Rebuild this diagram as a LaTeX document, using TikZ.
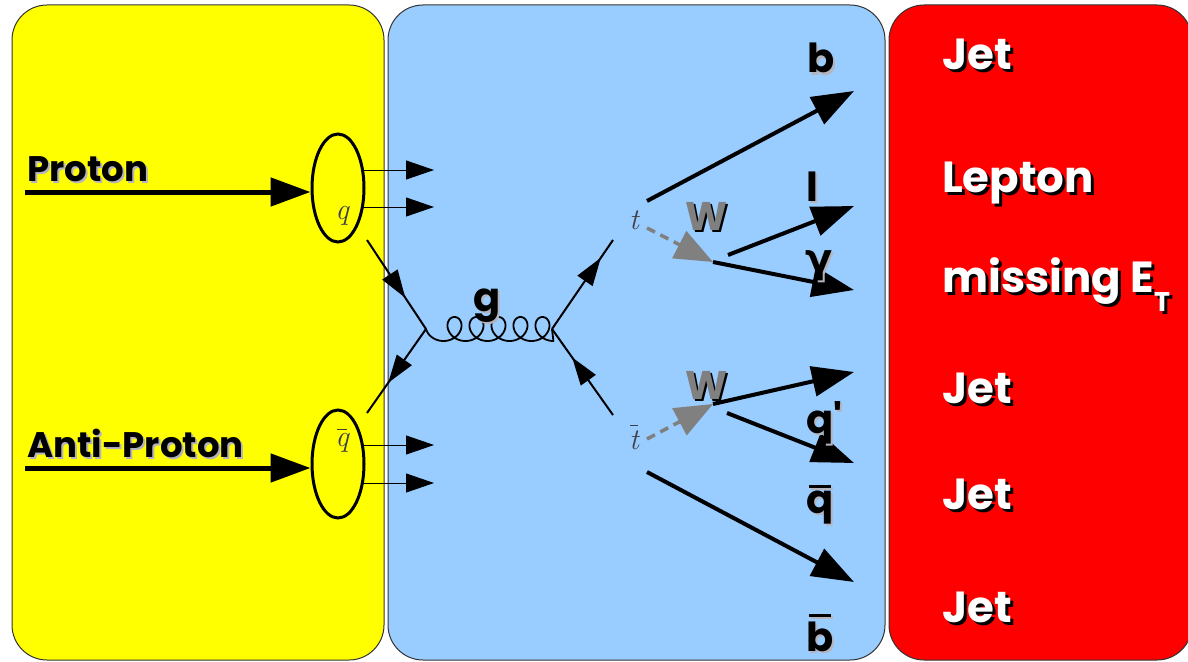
\documentclass[tikz,border=0pt]{standalone}
\usepackage{fontspec}
\setmainfont{Poppins}
\newfontfamily\lmr{Latin Modern Roman}
\newfontfamily\dvs{DejaVu Sans}
\usetikzlibrary{arrows.meta,decorations.markings,shapes.geometric}
\definecolor{panelY}{HTML}{FFFF00}
\definecolor{panelB}{HTML}{99CCFF}
\definecolor{panelR}{HTML}{FF0000}
\definecolor{panelline}{HTML}{333333}
\definecolor{wgray}{HTML}{808080}
\definecolor{shgray}{HTML}{B4B4BE}
\definecolor{mathgray}{HTML}{404048}
\newsavebox\barbox
\newcommand\barsym[3]{\sbox\barbox{#3}\rlap{\kern0.1\wd\barbox\raise#1\hbox{\vrule width0.8\wd\barbox height #2 depth 0pt}}\usebox\barbox}
% shadowed text: name, position, style, text colour, shadow colour, offset, text
\newcommand\stxt[7]{%
  \node[#3, text=#5, xshift=#6, yshift=-#6] at (#2) {#7};
  \node[#3, text=#4] (#1) at (#2) {#7};}
\tikzset{
  panel/.style={draw=panelline, line width=1pt, rounded corners=35pt},
  lefttxt/.style={anchor=base west, inner sep=0pt, font=\fontsize{35.5}{40}\selectfont\bfseries},
  ptxt/.style={anchor=base, inner sep=0pt, font=\fontsize{40}{44}\selectfont\bfseries},
  pwtxt/.style={anchor=base west, inner sep=0pt, font=\fontsize{40}{44}\selectfont\bfseries},
  jettxt/.style={anchor=base west, inner sep=0pt, font=\fontsize{43.5}{50}\selectfont\bfseries},
  mathlbl/.style={inner sep=0pt, font=\fontsize{30}{34}\selectfont\lmr\itshape},
  fermion/.style={line width=2pt, postaction=decorate,
    decoration={markings, mark=at position #1 with {\arrow{Triangle[length=28pt,width=18pt]}}}},
  fermion/.default=0.6,
  gluon/.style={line width=1.8pt, line join=round},
  beam/.style={line width=5pt, -{Triangle[length=40pt,width=28pt]}},
  thinarrow/.style={line width=1pt, -{Triangle[length=28pt,width=19pt]}},
  warrow/.style={line width=3.5pt, draw=wgray, dash pattern=on 9pt off 6pt,
    -{Triangle[length=38pt,width=30pt,fill=wgray]}},
  bigarrow/.style={line width=4pt, -{Triangle[length=42pt,width=30pt]}},
  hadron/.style={draw, ellipse, line width=3pt, inner sep=0pt, minimum width=52pt, minimum height=108pt},
}
\begin{document}
\begin{tikzpicture}[x=1pt,y=-1pt]
\useasboundingbox (0,0) rectangle (1188,661);
% panels
\draw[panel, fill=panelY] (12,5) rectangle (384,660);
\draw[panel, fill=panelB] (388,5) rectangle (885,660);
\draw[panel, fill=panelR] (889,5) rectangle (1192,660);

% hadrons
\node[hadron] (p) at (338,188) {};
\node[hadron] (ap) at (338,464) {};
\node[mathlbl, text=mathgray] (ql) at (342,216) {q};
\node[mathlbl, text=mathgray] (qbl) at (342,441) {\barsym{0.55em}{1pt}{q}};

% beams
\coordinate (pin) at (25,192);
\coordinate (apin) at (25,468);
\draw[beam] (pin) -- (pin -| p.west);
\draw[beam] (apin) -- (apin -| ap.west);

% spectator arrows
\coordinate (o1) at (434,170);
\coordinate (o2) at (434,207);
\coordinate (o3) at (434,445);
\coordinate (o4) at (434,483);
\draw[thinarrow] ([xshift=-3pt]o1 -| p.east) -- (o1);
\draw[thinarrow] ([xshift=-3pt]o2 -| p.east) -- (o2);
\draw[thinarrow] ([xshift=-3pt]o3 -| ap.east) -- (o3);
\draw[thinarrow] ([xshift=-3pt]o4 -| ap.east) -- (o4);

% quark lines and gluon
\coordinate (qs) at (367,240);
\coordinate (v1) at (426,329);
\coordinate (aqs) at (367,413);
\coordinate (v2) at (552,329);
\draw[fermion=0.65] (qs) -- (v1);
\draw[fermion=0.64] (v1) -- (aqs);
\draw[gluon] (v1) -- plot[domain=pi/2:11*pi, samples=360, variable=\t]
  ({432.5 + 3.5*\t - 12*sin(\t r)}, {329 - 12*cos(\t r)}) -- (v2);

% top quarks
\coordinate (te) at (613,240);
\coordinate (tbs) at (613,415);
\draw[fermion=0.8] (v2) -- (te);
\draw[fermion=0.67] (tbs) -- (v2);
\node[mathlbl, text=mathgray] (tl) at (634,220) {t};
\node[mathlbl, text=mathgray] (tbl) at (634,437) {\barsym{0.78em}{1pt}{t}};

% W bosons
\coordinate (ts) at (647,228);
\coordinate (wt) at (713,262);
\coordinate (tbe) at (647,439);
\coordinate (wb) at (713,404);
\draw[warrow] (ts) -- (wt);
\draw[warrow] (tbe) -- (wb);

% decay products
\coordinate (bs) at (647,201);   \coordinate (bend) at (854,91);
\coordinate (ls) at (728,255);   \coordinate (lend) at (854,206);
\coordinate (gend) at (854,290);
\coordinate (qpend) at (854,372);
\coordinate (qbs) at (727,413);  \coordinate (qbend) at (854,463);
\coordinate (bbs) at (647,472);  \coordinate (bbend) at (854,582);
\draw[bigarrow] (bs) -- (bend);
\draw[bigarrow] (ls) -- (lend);
\draw[bigarrow] (wt) -- (gend);
\draw[bigarrow] (wb) -- (qpend);
\draw[bigarrow] (qbs) -- (qbend);
\draw[bigarrow] (bbs) -- (bbend);

% left labels
\stxt{proton}{27,181}{lefttxt}{black}{shgray}{2pt}{Proton}
\stxt{aproton}{27,457}{lefttxt}{black}{shgray}{2pt}{Anti-Proton}

% middle labels
\stxt{glab}{487,311}{ptxt}{black}{shgray}{2pt}{g}
\stxt{wtl}{707,230}{ptxt}{wgray}{black}{2pt}{W}
\stxt{wbl}{707,399}{ptxt}{wgray}{black}{2pt}{W}
\stxt{blab}{807,73}{pwtxt}{black}{shgray}{2pt}{b}
\stxt{llab}{806,201}{pwtxt}{black}{shgray}{2pt}{l}
\stxt{gamlab}{805,272}{pwtxt}{black}{shgray}{2pt}{{\dvs γ}}
\stxt{qplab}{806,433}{pwtxt}{black}{shgray}{2pt}{q\textquotesingle}
\stxt{qblab}{806,513}{pwtxt}{black}{shgray}{2pt}{\barsym{0.62em}{3.5pt}{q}}
\stxt{bblab}{806,651}{pwtxt}{black}{shgray}{2pt}{\barsym{0.85em}{3.5pt}{b}}

% right labels
\stxt{jet1}{942,70}{jettxt}{white}{black}{3pt}{Jet}
\stxt{lepton}{942,192}{jettxt}{white}{black}{3pt}{Lepton}
\stxt{miss}{942,292}{jettxt}{white}{black}{3pt}{missing E\raisebox{-0.45em}{\fontsize{27}{30}\selectfont T}}
\stxt{jet2}{942,403}{jettxt}{white}{black}{3pt}{Jet}
\stxt{jet3}{942,509}{jettxt}{white}{black}{3pt}{Jet}
\stxt{jet4}{942,622}{jettxt}{white}{black}{3pt}{Jet}
\end{tikzpicture}
\end{document}
